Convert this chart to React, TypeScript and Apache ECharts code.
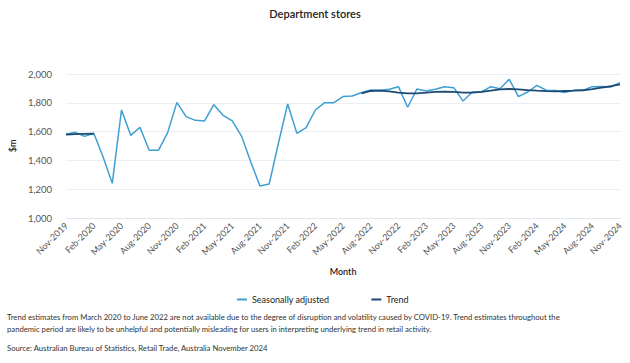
import React, { useEffect, useRef } from "react";
import * as echarts from "echarts";

const months: string[] = (() => {
  const names = ["Jan", "Feb", "Mar", "Apr", "May", "Jun", "Jul", "Aug", "Sep", "Oct", "Nov", "Dec"];
  const out: string[] = [];
  let m = 10, y = 2019;
  for (let i = 0; i < 61; i++) {
    out.push(`${names[m]}-${y}`);
    m++;
    if (m === 12) { m = 0; y++; }
  }
  return out;
})();

const seasonallyAdjusted: number[] = [
  1581, 1595, 1567, 1588, 1426, 1241, 1750, 1574, 1630, 1470, 1470, 1593,
  1803, 1704, 1678, 1674, 1787, 1713, 1674, 1569, 1391, 1222, 1236, 1519,
  1792, 1588, 1627, 1750, 1801, 1801, 1843, 1847, 1872, 1889, 1887, 1894,
  1912, 1769, 1896, 1882, 1894, 1912, 1905, 1812, 1875, 1875, 1912, 1898,
  1963, 1843, 1875, 1921, 1887, 1885, 1872, 1887, 1887, 1912, 1914, 1910,
  1940,
];

const trend: (number | null)[] = [
  1580, 1582, 1584, 1585,
  null, null, null, null, null, null, null, null, null, null, null, null,
  null, null, null, null, null, null, null, null, null, null, null, null,
  null, null, null, null,
  1866, 1882, 1885, 1880, 1870, 1865, 1866, 1870, 1876, 1878, 1876, 1870,
  1870, 1876, 1885, 1893, 1896, 1893, 1888, 1884, 1881, 1880, 1882, 1884,
  1887, 1895, 1905, 1915, 1928,
];

const yTicks = { min: 1000, max: 2000, interval: 200 };

const titleText = "Department stores";
const footnote1 =
  "Trend estimates from March 2020 to June 2022 are not available due to the degree of disruption and volatility caused by COVID-19. Trend estimates throughout the";
const footnote2 =
  "pandemic period are likely to be unhelpful and potentially misleading for users in interpreting underlying trend in retail activity.";
const sourceText = "Source: Australian Bureau of Statistics, Retail Trade, Australia November 2024";

const FONT = "Lato, 'Open Sans', sans-serif";

export default function App() {
  const ref = useRef<HTMLDivElement>(null);
  useEffect(() => {
    document.body.style.margin = "0";
    if (!ref.current) return;
    const chart = echarts.init(ref.current, undefined, { renderer: "svg" });
    chart.setOption({
      animation: false,
      backgroundColor: "#ffffff",
      textStyle: { fontFamily: FONT },
      title: {
        text: titleText,
        left: "center",
        top: 3,
        textStyle: { fontSize: 11, fontWeight: 600, color: "#222", fontFamily: FONT },
      },
      grid: { left: 63, right: 10, top: 74, bottom: 145, containLabel: false },
      legend: {
        left: 232,
        top: 290,
        itemGap: 42,
        itemWidth: 10,
        itemHeight: 2,
        icon: "rect",
        textStyle: { fontSize: 9, color: "#222", fontFamily: FONT },
        data: ["Seasonally adjusted", "Trend"],
      },
      xAxis: {
        type: "category",
        data: months,
        boundaryGap: false,
        name: "Month",
        nameLocation: "middle",
        nameGap: 49,
        nameTextStyle: { fontSize: 9, fontWeight: 600, color: "#222" },
        axisLine: { lineStyle: { color: "#dfe6ee" } },
        axisTick: { show: false },
        axisLabel: { interval: 2, rotate: 45, fontSize: 9, color: "#555", margin: 6 },
      },
      yAxis: {
        type: "value",
        min: yTicks.min,
        max: yTicks.max,
        interval: yTicks.interval,
        name: "$m",
        nameLocation: "middle",
        nameRotate: 90,
        nameGap: 46,
        nameTextStyle: { fontSize: 9, fontWeight: 600, color: "#222" },
        axisLine: { show: false },
        axisTick: { show: false },
        splitLine: { lineStyle: { color: "#ebeef2" } },
        axisLabel: {
          fontSize: 9.5,
          color: "#555",
          margin: 14,
          formatter: (v: number) => v.toLocaleString("en-US"),
        },
      },
      series: [
        {
          name: "Seasonally adjusted",
          type: "line",
          data: seasonallyAdjusted,
          showSymbol: false,
          symbol: "none",
          lineStyle: { color: "#3f9fd3", width: 1.5 },
          itemStyle: { color: "#3f9fd3" },
          z: 2,
        },
        {
          name: "Trend",
          type: "line",
          data: trend,
          showSymbol: false,
          symbol: "none",
          connectNulls: false,
          lineStyle: { color: "#1d4a73", width: 1.8 },
          itemStyle: { color: "#1d4a73" },
          z: 3,
        },
      ],
      graphic: [
        {
          type: "text",
          left: 7,
          top: 313,
          style: { text: footnote1, fontSize: 7.7, fill: "#333", fontFamily: FONT },
        },
        {
          type: "text",
          left: 7,
          top: 325,
          style: { text: footnote2, fontSize: 7.7, fill: "#333", fontFamily: FONT },
        },
        {
          type: "text",
          left: 7,
          top: 344,
          style: { text: sourceText, fontSize: 7.7, fill: "#333", fontFamily: FONT },
        },
      ],
    });
    return () => chart.dispose();
  }, []);
  return <div ref={ref} style={{ width: 630, height: 363 }} />;
}
